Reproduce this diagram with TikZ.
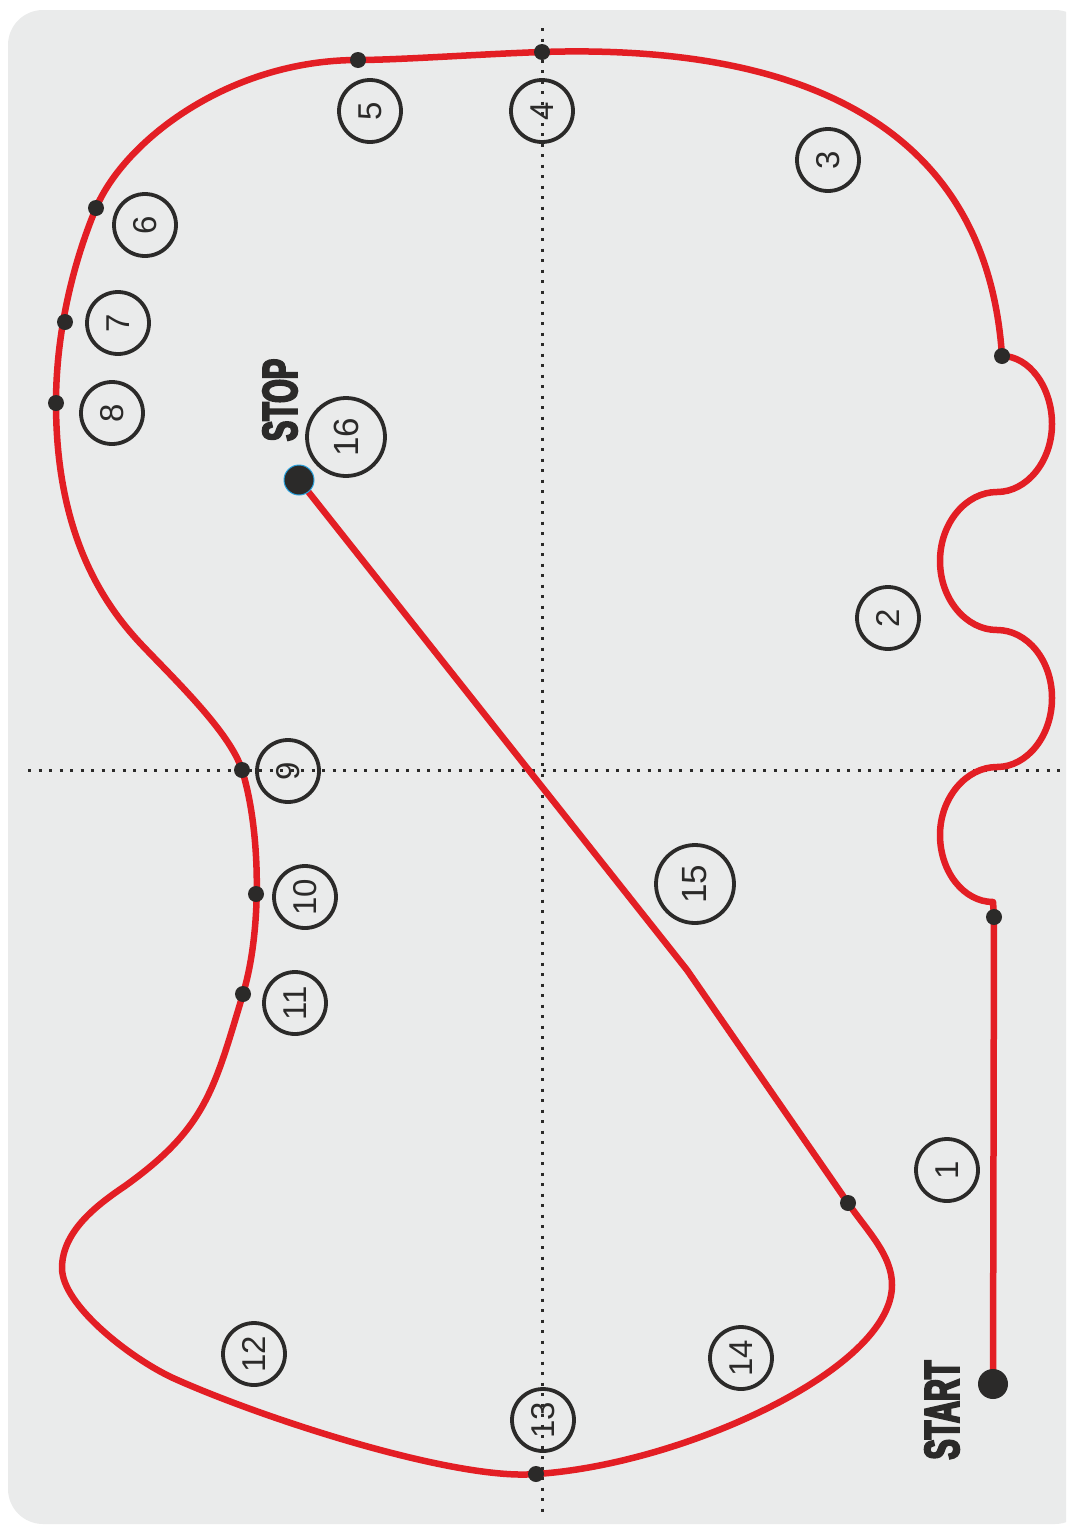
\documentclass[tikz,border=0pt]{standalone}
\usepackage{fontspec}
\setmainfont{Liberation Sans}
\newfontfamily\tagfont[FakeStretch=0.62,FakeBold=4]{Liberation Sans}
\usepackage{xcolor}
\definecolor{trackred}{RGB}{227,30,36}
\definecolor{ink}{RGB}{43,42,41}
\definecolor{paper}{RGB}{234,235,235}
\definecolor{rimblue}{RGB}{40,160,220}

\begin{document}
\begin{tikzpicture}[
    x=1pt, y=-1pt,
    track/.style={draw=trackred, line width=6.5pt, line join=round, line cap=round},
    guide/.style={draw=ink, line width=3pt, dash pattern=on 3pt off 7.5pt},
    waypoint/.style={circle, fill=ink, inner sep=0pt, minimum size=16pt},
    endpoint/.style={circle, fill=ink, inner sep=0pt, minimum size=30pt},
    station/.style={circle, draw=ink, text=ink, line width=3.8pt, minimum size=62pt, inner sep=0pt, rotate=90, font=\fontsize{33}{33}\selectfont},
    bigstation/.style={station, minimum size=78pt, font=\fontsize{35}{35}\selectfont},
    tag/.style={rotate=90, text=ink, inner sep=0pt, font=\tagfont\bfseries\fontsize{49}{49}\selectfont}
]
\clip (0,0) rectangle (1066,1526);
\fill[paper, rounded corners=35pt] (8,10) rectangle (1090,1524);

% axes
\draw[guide] (542,28) -- (542,1515);
\draw[guide] (28,770) -- (1060,770);

% track points
\coordinate (start) at (993,1384);
\coordinate (w1) at (994,917);
\coordinate (w2) at (1002,356);
\coordinate (w3) at (542,52);
\coordinate (w4) at (358,60);
\coordinate (w5) at (96,208);
\coordinate (w6) at (65,322);
\coordinate (w7) at (56,403);
\coordinate (w8) at (242,770);
\coordinate (w9) at (256,894);
\coordinate (w10) at (243,994);
\coordinate (w11) at (536,1474);
\coordinate (w12) at (848,1203);
\coordinate (kink) at (125,1186);
\coordinate (bend) at (687,970);
\coordinate (stop) at (299,480);

\draw[track] (start) -- (w1) -- (993,902)
  .. controls (964,902) and (940,872) .. (940,835)
  .. controls (940,798) and (966,767) .. (997,767)
  .. controls (1027,767) and (1052,736) .. (1052,698)
  .. controls (1052,660) and (1027,630) .. (997,630)
  .. controls (966,630) and (940,599) .. (940,561)
  .. controls (940,523) and (966,492) .. (997,492)
  .. controls (1027,492) and (1052,461) .. (1052,424)
  .. controls (1052,387) and (1029,356) .. (w2)
  .. controls (985,100) and (760,45) .. (w3)
  .. controls (482,54) and (398,60) .. (w4)
  .. controls (230,60) and (125,140) .. (w5)
  .. controls (73,263) and (56,333) .. (w7)
  .. controls (56,530) and (100,600) .. (140,643)
  .. controls (174,679) and (230,732) .. (w8)
  .. controls (260,827) and (263,927) .. (w10)
  .. controls (214,1090) and (206,1128) .. (kink)
  .. controls (100,1203) and (62,1230) .. (62,1268)
  .. controls (62,1305) and (130,1358) .. (173,1378)
  .. controls (264,1419) and (456,1481) .. (w11)
  .. controls (680,1465) and (892,1370) .. (892,1285)
  .. controls (892,1255) and (868,1232) .. (w12)
  -- (bend) -- (stop);

% dots
\foreach \p in {w1,w2,w3,w4,w5,w6,w7,w8,w9,w10,w11,w12}
  \node[waypoint] (dot-\p) at (\p) {};
\node[endpoint] (startdot) at (start) {};
\node[endpoint, draw=rimblue, line width=1pt] (stopdot) at (stop) {};

% stations
\node[station] (c1) at (947,1170) {1};
\node[station] (c2) at (888,618) {2};
\node[station] (c3) at (828,160) {3};
\node[station] (c4) at (542,111) {4};
\node[station] (c5) at (370,111) {5};
\node[station] (c6) at (145,225) {6};
\node[station] (c7) at (118,323) {7};
\node[station] (c8) at (112,413) {8};
\node[station] (c9) at (288,771) {9};
\node[station] (c10) at (305,897) {10};
\node[station] (c11) at (295,1003) {11};
\node[station] (c12) at (254,1354) {12};
\node[station] (c13) at (543,1420) {13};
\node[station] (c14) at (741,1358) {14};
\node[bigstation] (c15) at (695,884) {15};
\node[bigstation] (c16) at (346,437) {16};

% labels
\node[tag] (starttag) at (942,1410) {START};
\node[tag] (stoptag) at (280,400) {STOP};
\end{tikzpicture}
\end{document}
